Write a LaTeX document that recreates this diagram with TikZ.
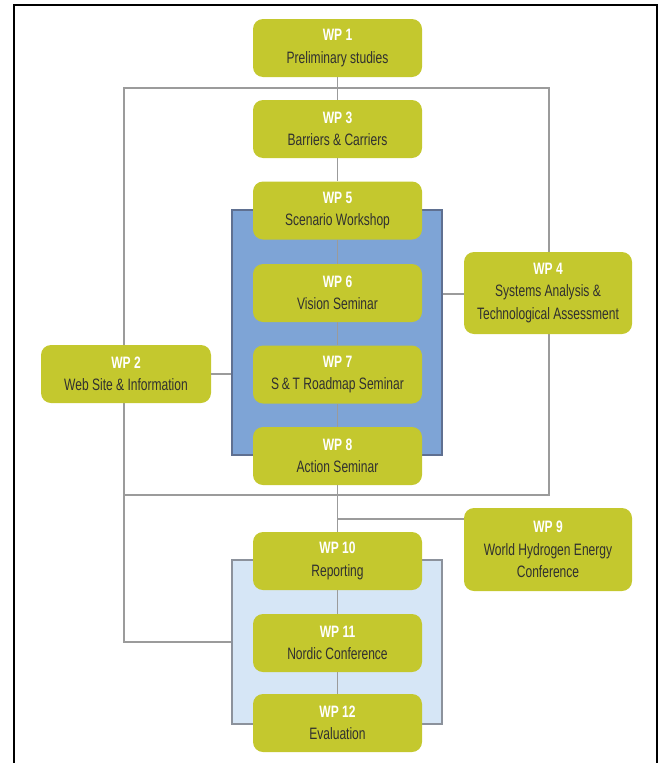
\documentclass[tikz,border=0pt]{standalone}
\usepackage{fontspec}
\setmainfont{Liberation Sans}[FakeStretch=0.73]
\usetikzlibrary{calc}
\definecolor{wpgreen}{RGB}{196,200,46}
\definecolor{wptext}{RGB}{48,48,48}
\definecolor{bluefill}{RGB}{126,164,214}
\definecolor{blueedge}{RGB}{95,112,145}
\definecolor{lbfill}{RGB}{214,230,246}
\definecolor{lbedge}{RGB}{140,146,156}
\definecolor{gline}{RGB}{155,155,155}
\tikzset{
  wp/.style={rectangle, rounded corners=10pt, fill=wpgreen, text=wptext, align=center,
    minimum width=169pt, minimum height=58pt, inner sep=0pt,
    font=\fontsize{16.5}{22.5}\selectfont},
  conn/.style={draw=gline, line width=1.5pt},
  frameline/.style={draw=black, line width=2.2pt}
}
\newcommand{\wph}[1]{\textcolor{white}{\bfseries #1}}
\begin{document}
\begin{tikzpicture}[x=1pt,y=-1pt]
\useasboundingbox (0,0) rectangle (659,763);
% outer frame
\draw[frameline] (14,775) -- (14,5) -- (658,5);
\draw[draw=black, line width=1.4pt] (657,5) -- (657,775);
% big gray group
\coordinate (g1) at (124,88);
\coordinate (g2) at (549,495);
\draw[conn] (g1) rectangle (g2);
% blue groups
\node[draw=blueedge, line width=1.5pt, fill=bluefill, minimum width=210pt, minimum height=245pt, inner sep=0pt] (blue) at (337,332.5) {};
\node[draw=lbedge, line width=1.5pt, fill=lbfill, minimum width=210pt, minimum height=164pt, inner sep=0pt] (lb) at (337,642) {};
% left path to light blue
\coordinate (g3) at (124,495);
\draw[conn] (g3) -- (g3 |- lb.west) -- (lb.west);
% green boxes
\node[wp] (wp1) at (337.5,48) {\wph{WP 1}\\Preliminary studies};
\node[wp] (wp3) at (337.5,129) {\wph{WP 3}\\Barriers \& Carriers};
\node[wp] (wp5) at (337.5,210.5) {\wph{WP 5}\\Scenario Workshop};
\node[wp] (wp6) at (337.5,293) {\wph{WP 6}\\Vision Seminar};
\node[wp] (wp7) at (337.5,374.5) {\wph{WP 7}\\S\,\&\,T Roadmap Seminar};
\node[wp] (wp8) at (337.5,456) {\wph{WP 8}\\Action Seminar};
\node[wp] (wp10) at (337.5,561) {\wph{WP 10}\\Reporting};
\node[wp] (wp11) at (337.5,643) {\wph{WP 11}\\Nordic Conference};
\node[wp] (wp12) at (337.5,723) {\wph{WP 12}\\Evaluation};
\node[wp, minimum width=170pt] (wp2) at (126,374) {\wph{WP 2}\\Web Site \& Information};
\node[wp, minimum width=168pt, minimum height=82pt] (wp4) at (548,293) {\wph{WP 4}\\Systems Analysis \&\\Technological Assessment};
\node[wp, minimum width=168pt, minimum height=83pt] (wp9) at (548,549.5) {\wph{WP 9}\\World Hydrogen Energy\\Conference};
% central connectors
\draw[conn] (wp1) -- (wp3);
\draw[conn] (wp3) -- (wp5);
\draw[conn] (wp5) -- (wp6);
\draw[conn] (wp6) -- (wp7);
\draw[conn] (wp7) -- (wp8);
\draw[conn] (wp8) -- (wp10);
\draw[conn] (wp10) -- (wp11);
\draw[conn] (wp11) -- (wp12);
% side connectors
\draw[conn] (wp2.east) -- (wp2.east -| blue.west);
\draw[conn] (wp4.west |- 0,294) -- (blue.east |- 0,294);
\coordinate (j9) at (337.5,519);
\draw[conn] (j9) -- (j9 -| wp9.west);
\end{tikzpicture}
\end{document}
